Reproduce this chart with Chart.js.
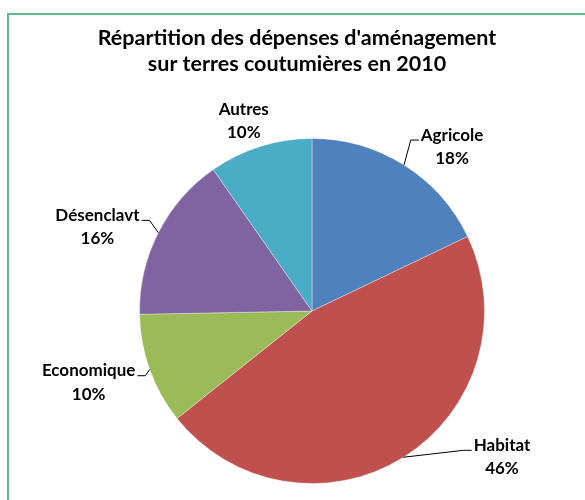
<!DOCTYPE html>
<html>
<head>
<meta charset="utf-8">
<script src="https://cdn.jsdelivr.net/npm/chart.js@4"></script>
<style>
  body { margin: 0; background: #fff; }
  canvas { display: block; }
</style>
</head>
<body>
<canvas id="camembert" width="585" height="500"></canvas>
<script>
// Répartition des dépenses d'aménagement (2010)
const categories = ['Agricole', 'Habitat', 'Economique', 'Désenclavt', 'Autres']
const valeurs = [17.9, 46.4, 10.4, 15.6, 9.7]
const couleurs = ['#4F81BD', '#C0504D', '#9BBB59', '#8064A2', '#4BACC6']
const titre = ["Répartition des dépenses d'aménagement", 'sur terres coutumières en 2010']

// placement des étiquettes : angle (degrés depuis le haut) et distance en rayons
const placementEtiquettes = [
  { angle: 40.5, dist: 1.25 },
  { angle: 127.6, dist: 1.39 },
  { angle: 252.2, dist: 1.36 },
  { angle: 291.3, dist: 1.335 },
  { angle: 340.2, dist: 1.168 },
]

const police = 'Lato, "Open Sans", sans-serif'

// cadre + titre
const cadrePlugin = {
  id: 'cadre',
  beforeDraw(chart) {
    const ctx = chart.ctx
    ctx.save()
    ctx.fillStyle = '#fff'
    ctx.fillRect(0, 0, chart.width, chart.height)
    ctx.strokeStyle = '#62b88b'
    ctx.lineWidth = 2
    ctx.strokeRect(8, 14, chart.width + 20, chart.height + 20)
    ctx.fillStyle = '#000'
    ctx.font = 'bold 21.5px ' + police
    ctx.textAlign = 'center'
    ctx.textBaseline = 'middle'
    titre.forEach((ligne, i) => ctx.fillText(ligne, 297, 38 + i * 26))
    ctx.restore()
  },
}

// étiquettes avec lignes de rappel
const etiquettesPlugin = {
  id: 'etiquettes',
  afterDatasetsDraw(chart) {
    const ctx = chart.ctx
    const meta = chart.getDatasetMeta(0)
    const total = valeurs.reduce((a, b) => a + b, 0)
    ctx.save()
    ctx.font = 'bold 17px ' + police
    ctx.fillStyle = '#000'
    ctx.strokeStyle = '#000'
    ctx.lineWidth = 1
    ctx.textBaseline = 'middle'
    ctx.textAlign = 'center'
    meta.data.forEach((arc, i) => {
      const { x, y, outerRadius, startAngle, endAngle } = arc.getProps(['x', 'y', 'outerRadius', 'startAngle', 'endAngle'], true)
      const p = placementEtiquettes[i]
      const a = (p.angle - 90) * Math.PI / 180
      const lx = x + Math.cos(a) * outerRadius * p.dist
      const ly = y + Math.sin(a) * outerRadius * p.dist
      const lignes = [categories[i], Math.round(valeurs[i] / total * 100) + '%']
      const largeur = Math.max(...lignes.map(t => ctx.measureText(t).width))
      lignes.forEach((t, j) => ctx.fillText(t, lx, ly - 12 + j * 23.5))

      if (p.dist > 1.2) {
        const mid = (startAngle + endAngle) / 2
        const px = x + Math.cos(mid) * outerRadius
        const py = y + Math.sin(mid) * outerRadius
        const droite = lx > x
        const ex = droite ? lx - largeur / 2 - 2 : lx + largeur / 2 + 2
        const ey = ly - 7
        const kx = droite ? ex - 8 : ex + 8
        ctx.beginPath()
        ctx.moveTo(px, py)
        ctx.lineTo(kx, ey)
        ctx.lineTo(ex, ey)
        ctx.stroke()
      }
    })
    ctx.restore()
  },
}

new Chart(document.getElementById('camembert'), {
  type: 'pie',
  data: {
    labels: categories,
    datasets: [
      {
        data: valeurs,
        backgroundColor: couleurs,
        borderColor: 'rgba(255,255,255,0.35)',
        borderWidth: 1,
      },
    ],
  },
  options: {
    responsive: false,
    animation: false,
    layout: { padding: { left: 139, right: 100, top: 137, bottom: 15 } },
    plugins: {
      legend: { display: false },
      title: { display: false },
      tooltip: { enabled: false },
    },
  },
  plugins: [cadrePlugin, etiquettesPlugin],
})
</script>
</body>
</html>
